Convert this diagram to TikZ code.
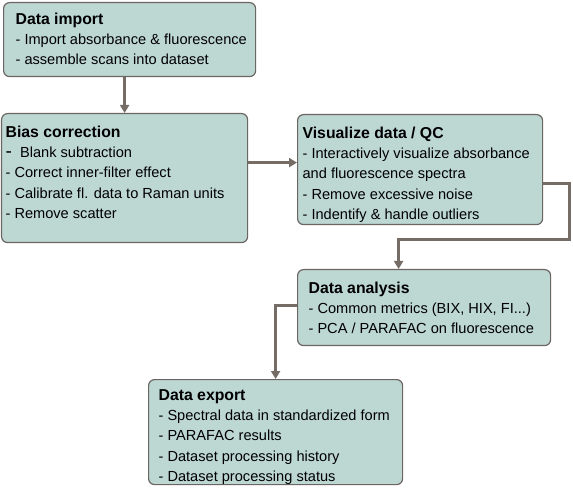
\documentclass[tikz,border=0pt]{standalone}
\usepackage{fontspec}
\setmainfont{Liberation Sans}
\usetikzlibrary{arrows.meta,positioning,calc}
\definecolor{wffill}{RGB}{189,215,211}
\definecolor{wfborder}{RGB}{108,102,98}
\definecolor{wfline}{RGB}{117,108,102}
\newcommand{\wfbody}{\fontsize{14.6}{20.3}\selectfont}
\newcommand{\wftitle}[2]{\rule{0pt}{#1}{\fontsize{15.8}{20.3}\selectfont\bfseries #2}}
\newcommand{\wfstep}[4]{\parbox[c][#2][t]{#1}{\wfbody\leftskip=#3\relax #4}}
\tikzset{
  wfbox/.style={
    draw=wfborder, fill=wffill, line width=1.2pt,
    rounded corners=6pt, anchor=north west, inner sep=0pt
  },
  wfarrow/.style={draw=wfline,line width=3pt,-{Triangle[length=8pt,width=9pt]}}
}

\begin{document}
\begin{tikzpicture}[x=1pt,y=-1pt]
\useasboundingbox (0,0) rectangle (573,494);
% workflow steps, placed at pixel positions
\node[wfbox] (imp) at (3,2) {\wfstep{252pt}{74pt}{12pt}{%
  \wftitle{21.7pt}{Data import}\\
  - Import absorbance \& fluorescence\\
  - assemble scans into dataset}};
\node[wfbox] (bias) at (1,113) {\wfstep{246pt}{129pt}{4pt}{%
  \wftitle{23.7pt}{Bias correction}\\
  {\fontsize{19}{20.3}\selectfont -}\ \ Blank subtraction\\
  - Correct inner-filter effect\\
  - Calibrate fl. data to Raman units\\
  - Remove scatter}};
\node[wfbox] (vis) at (297,114) {\wfstep{245pt}{110pt}{5pt}{%
  \wftitle{23.7pt}{Visualize data / QC}\\
  - Interactively visualize absorbance\\
  and fluorescence spectra\\
  - Remove excessive noise\\
  - Indentify \& handle outliers}};
\node[wfbox] (ana) at (297,269) {\wfstep{253pt}{76pt}{11pt}{%
  \wftitle{23.7pt}{Data analysis}\\
  - Common metrics (BIX, HIX, FI...)\\
  - PCA / PARAFAC on fluorescence}};
\node[wfbox] (exp) at (148,379) {\wfstep{254pt}{105pt}{10pt}{%
  \wftitle{20.7pt}{Data export}\\
  - Spectral data in standardized form\\
  - PARAFAC results\\
  - Dataset processing history\\
  - Dataset processing status}};

% connectors
\coordinate (visbend) at (569,240);
\draw[wfarrow] (bias.north |- imp.south) -- (bias.north);
\draw[wfarrow] ([yshift=15.5pt]bias.east) -- ([yshift=7pt]vis.west);
\draw[wfarrow] ([yshift=-14pt]vis.east) -| (visbend) -| ([xshift=-25.5pt]ana.north);
\draw[wfarrow] ([yshift=2pt]ana.west) -| (exp.north);
\end{tikzpicture}
\end{document}
